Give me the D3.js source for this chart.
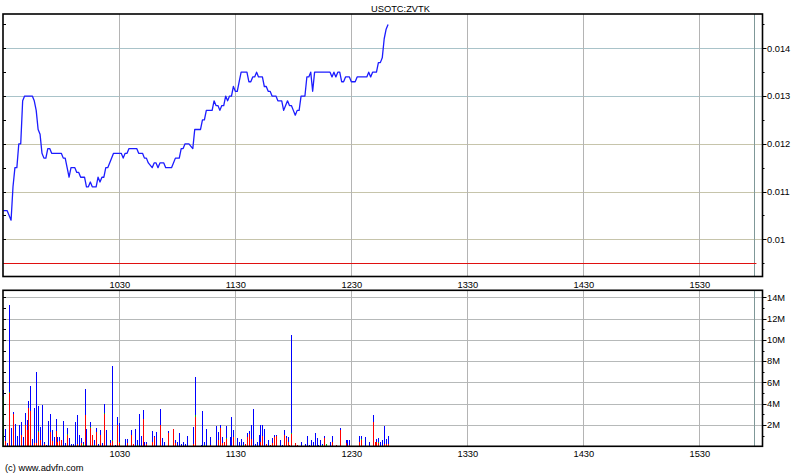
<!DOCTYPE html>
<html><head><meta charset="utf-8">
<script src="https://cdn.jsdelivr.net/npm/d3@7"></script>
<style>
body{margin:0;background:#fff;}
svg{display:block;font-family:"Liberation Sans",Arial,sans-serif;}
</style></head><body>
<svg id="c" width="800" height="475"></svg>
<script>
// ---------- data ----------
const title = "USOTC:ZVTK";
const copyright = "(c) www.advfn.com";
// minutes after 09:30
const timeTickMinutes = [60,120,180,240,300,360];
const timeTickLabels = ["1030","1130","1230","1330","1430","1530"];
const priceTicks = [0.010,0.011,0.012,0.013,0.014];
const priceTickLabels = ["0.01","0.011","0.012","0.013","0.014"];
const priceMinorTicks = [0.0095,0.0105,0.0115,0.0125,0.0135,0.0145];
const volTicks = [2,4,6,8,10,12,14];
const volTickLabels = ["2M","4M","6M","8M","10M","12M","14M"];
const volMinorTicks = [1,3,5,7,9,11,13];
const prevClose = 0.0095;
const sessionMarkerMinute = 388.5;

const priceMinutes = [0,2,4,5,6,7,8,9,10,11,15,16,17,18,19,20,21,22,23,24,25,30,31,32,33,34,35,37,38,39,40,42,43,44,45,46,48,49,50,51,52,53,54,55,57,61,62,63,64,65,69,70,72,73,74,75,77,78,79,80,81,83,84,87,88,89,91,92,93,94,96,98,99,102,103,104,105,108,109,110,111,112,113,114,115,116,117,118,119,120,121,122,123,126,127,128,129,130,131,132,134,135,136,137,138,139,141,142,144,145,146,147,148,149,150,151,152,153,154,156,157,158,159,160,161,169,170,171,172,173,174,175,176,177,179,180,182,183,188,189,190,191,193,194,195,196,197,198,199];
const prices = [0.0106,0.0106,0.0104,0.0111,0.0115,0.0115,0.0120,0.0120,0.0129,0.0130,0.0130,0.0129,0.0127,0.0123,0.0122,0.0118,0.0117,0.0117,0.0119,0.0119,0.0118,0.0118,0.0117,0.0117,0.0115,0.0113,0.0115,0.0115,0.0114,0.0114,0.0113,0.0113,0.0111,0.0111,0.0112,0.0111,0.0111,0.0113,0.0112,0.0113,0.0113,0.0115,0.0115,0.0116,0.0118,0.0118,0.0117,0.0118,0.0118,0.0119,0.0119,0.0118,0.0118,0.0117,0.0117,0.0116,0.0115,0.0116,0.0116,0.0115,0.0116,0.0116,0.0115,0.0115,0.0116,0.0117,0.0117,0.0119,0.0119,0.0120,0.0120,0.0119,0.0123,0.0123,0.0125,0.0125,0.0127,0.0127,0.0129,0.0128,0.0128,0.0127,0.0128,0.0128,0.0130,0.0129,0.0130,0.0130,0.0132,0.0131,0.0131,0.0133,0.0135,0.0135,0.0133,0.0133,0.0134,0.0134,0.0135,0.0134,0.0134,0.0132,0.0132,0.0131,0.0131,0.0130,0.0130,0.0129,0.0129,0.0127,0.0128,0.0129,0.0128,0.0128,0.0127,0.0126,0.0127,0.0127,0.0130,0.0130,0.0134,0.0134,0.0135,0.0131,0.0135,0.0135,0.0134,0.0135,0.0134,0.0135,0.0135,0.0133,0.0133,0.0134,0.0134,0.0133,0.0133,0.0134,0.0134,0.0135,0.0134,0.0135,0.0135,0.0137,0.0137,0.0138,0.0142,0.0144,0.0145];

// volume per minute, millions of shares
const volMinutes = [0,1,2,3,4,5,6,7,8,9,
10,11,12,13,14,15,16,17,18,19,
20,21,22,23,24,25,26,27,28,29,
30,31,32,33,34,35,36,37,38,39,
40,41,42,43,45,46,47,48,49,50,
51,52,53,55,56,58,59,60,63,64,
66,67,68,69,70,71,72,73,74,77,
78,79,81,82,83,85,88,89,90,91,
92,93,94,95,98,99,102,103,104,105,
107,110,111,112,113,114,115,117,118,119,
121,122,123,124,125,126,127,128,129,130,
131,132,133,134,135,136,137,138,139,140,
141,143,144,145,146,147,148,149,151,152,
154,156,157,158,159,160,161,162,163,164,
165,166,167,169,170,172,174,177,178,179,
184,185,187,189,191,192,193,194,195,196,
197,198,199];
const volSell = [0,0.5,0,5.0,0,3.0,0,0,0,1.1,
0,2.0,1.5,3.6,3.3,0,0.3,0.3,1.3,0.6,
0,0.2,0,0,1.3,0.5,0,1.4,0.4,0.5,
0.6,0,0,1.1,0,0,0,0,0.2,0,
0.3,0,2.9,0,1.7,1.1,0,1.3,0,1.1,
0,3.0,0,0.3,0.5,0.05,2.0,0.3,0,0.3,
1.1,0.2,0,0,0,0,2.55,0,0.2,0.4,
0.85,0,2.0,0,0,1.25,1.6,0.35,0,0,
0,0,0,0,0.2,2.8,0,0,0,0,
0.15,0,0.6,1.7,0.3,0.4,0.7,0,0,0.9,
0,0,0,0,0.2,0.85,1.2,0.65,0,0,
0,0,0.4,1.0,0,0.2,0,0.1,0.3,0.9,
0.95,0,0,1.1,0.75,0.4,0.1,1.15,0.3,0.1,
0,0,0,0,0,0,0,0,0,0,
0,0.75,0,0,0.4,0.1,1.5,0.3,0,0.1,
0.4,0.55,0,0,2.25,0.4,0.4,0.3,0,0,
0.2,0.2,0.2];
const volNeutral = [4.7,0,0,0.1,0,0,0,0,0,0,
0,0,0,0,0,0,0,0,0.15,0,
0,0,0,0,0,0,0,0,0,0,
0,0,0,0.1,0,0,0,0,0,0,
0,0.2,0,0,0.1,0,0.1,0,0,0,
0,0.1,0,0,0.1,0,0,0.1,0,0,
0,0,0,0.1,0,0,0,0,0,0,
0.05,0,0,0,0,0,0,0,0,0,
0,0,0,0,0,0.1,0,0,0.15,0,
0,0,0,0,0,0,0.1,0,0,0,
0,0,0,0.1,0,0,0,0,0,0,
0,0,0,0,0,0,0,0,0,0,
0,0,0,0,0.05,0,0,0.1,0,0,
0,0,0,0,0,0,0,0,0,0,
0.1,0,0.2,0,0,0,0,0,0,0,
0,0.1,0,0,0,0,0,0.1,0,0,
0,0,0];
const volBuy = [0.6,1.1,0.3,8.2,1.7,0.2,2.1,1.0,2.0,1.2,
0.9,1.1,1.0,0.65,2.4,0.7,3.3,6.7,2.35,1.2,
3.9,0.2,0.15,2.4,1.7,1.0,0.85,1.15,0.5,0.35,
0,2.4,0.3,0.5,0.75,0.2,0.2,2.3,2.7,1.1,
0.45,0.25,2.5,1.6,0.5,0,0.45,0.4,0.2,0.4,
0.3,0.9,1.5,0.25,6.9,0.1,0.8,1.8,0.65,0.35,
0.4,0,1.6,0.45,3.0,1.0,0.85,0.45,0.25,1.0,
0.05,1.3,1.5,0.75,0.45,0.15,0,0.2,0.45,1.25,
0.2,0.45,0.2,0.95,1.6,3.6,0.1,3.3,0.25,1.6,
0.7,1.9,0.7,0.3,0.55,0,1.1,0.85,2.8,0.6,
0.75,0.4,0.65,0.3,0,0.4,0.2,1.35,3.5,0.2,
0.45,1.1,1.6,1.0,1.6,0,0.55,0,0.45,0.2,
0.15,0.55,0.1,0.4,0.15,0.45,0,9.25,0,0,
0.45,0.2,1.0,0.1,0.55,0.4,1.25,0.75,0.1,0.55,
0.1,0.25,0,0.4,0.55,0,0.2,0.25,0.55,0.45,
0.55,0.35,0.85,0.45,0.65,0,0.25,0.35,0.4,0.55,
1.7,0.45,0.8];

// ---------- layout ----------
const W = 800, H = 475;
const L = 3, R = 762.5;
const P = {top: 14, bottom: 276.5};
const V = {top: 290.3, bottom: 446.3};
const FONT = 9.3;

const svg = d3.select("#c");
const x = d3.scaleLinear().domain([0, 390]).range([3.33, 757.33]);
const yP = d3.scaleLinear().domain([0.010, 0.014]).range([239.3, 48.3]);
const yV = d3.scaleLinear().domain([0, 14]).range([446.3, 297.3]);

function panelBase(top, bottom, yScale, ticks, minor, labels, colorFn) {
  const g = svg.append("g");
  // horizontal grid
  g.selectAll("line.h").data(ticks).join("line")
    .attr("x1", L).attr("x2", R)
    .attr("y1", d => Math.round(yScale(d)) + 0.5).attr("y2", d => Math.round(yScale(d)) + 0.5)
    .attr("stroke", colorFn).attr("stroke-width", 1);
  // vertical grid
  g.selectAll("line.v").data(timeTickMinutes).join("line")
    .attr("x1", d => Math.round(x(d)) + 0.5).attr("x2", d => Math.round(x(d)) + 0.5)
    .attr("y1", top).attr("y2", bottom)
    .attr("stroke", "#b4b4b4").attr("stroke-width", 1);
  // session marker
  g.append("line")
    .attr("x1", Math.round(x(sessionMarkerMinute)) + 0.5).attr("x2", Math.round(x(sessionMarkerMinute)) + 0.5)
    .attr("y1", top).attr("y2", bottom)
    .attr("stroke", "#7f9898").attr("stroke-width", 1);
  // right axis ticks + labels
  g.selectAll("line.rt").data(ticks).join("line")
    .attr("x1", R).attr("x2", R + 4)
    .attr("y1", d => Math.round(yScale(d)) + 0.5).attr("y2", d => Math.round(yScale(d)) + 0.5)
    .attr("stroke", "#000");
  g.selectAll("line.rm").data(minor).join("line")
    .attr("x1", R).attr("x2", R + 2)
    .attr("y1", d => Math.round(yScale(d)) + 0.5).attr("y2", d => Math.round(yScale(d)) + 0.5)
    .attr("stroke", "#000");
  g.selectAll("line.lt").data(ticks.concat(minor)).join("line")
    .attr("x1", L).attr("x2", L + 3)
    .attr("y1", d => Math.round(yScale(d)) + 0.5).attr("y2", d => Math.round(yScale(d)) + 0.5)
    .attr("stroke", "#000");
  g.selectAll("text.rl").data(ticks).join("text")
    .attr("x", R + 4.5).attr("y", d => yScale(d) + 3.3)
    .attr("font-size", FONT).attr("fill", "#000")
    .text((d, i) => labels[i]);
  // bottom time labels
  g.selectAll("text.tl").data(timeTickMinutes).join("text")
    .attr("x", d => x(d) + 0.5).attr("y", bottom + 11)
    .attr("text-anchor", "middle").attr("font-size", FONT).attr("fill", "#000")
    .text((d, i) => timeTickLabels[i]);
  return g;
}

// ---------- price panel ----------
const gP = panelBase(P.top, P.bottom, yP, priceTicks, priceMinorTicks, priceTickLabels,
  d => d >= 0.013 ? "#a9c3c9" : "#c6c4ab");

gP.append("line")
  .attr("x1", L).attr("x2", x(sessionMarkerMinute) + 2)
  .attr("y1", Math.round(yP(prevClose)) + 0.5).attr("y2", Math.round(yP(prevClose)) + 0.5)
  .attr("stroke", "#e01010").attr("stroke-width", 1.2);

const pricePts = priceMinutes.map((m, i) => [m, prices[i]]);
gP.append("path")
  .datum(pricePts)
  .attr("fill", "none").attr("stroke", "#1c1cff").attr("stroke-width", 1.3)
  .attr("stroke-linejoin", "round")
  .attr("d", d3.line().x(d => x(d[0])).y(d => yP(d[1])));

gP.append("rect")
  .attr("x", L).attr("y", P.top).attr("width", R - L).attr("height", P.bottom - P.top)
  .attr("fill", "none").attr("stroke", "#000").attr("stroke-width", 1.6);

// ---------- volume panel ----------
const gV = panelBase(V.top, V.bottom, yV, volTicks, volMinorTicks, volTickLabels, () => "#b6b9b9");

const volRows = volMinutes.map((m, i) => ({m, sell: volSell[i], neutral: volNeutral[i], buy: volBuy[i]}));
const stack = d3.stack().keys(["sell", "neutral", "buy"])(volRows);
const volColors = {sell: "#ff0000", neutral: "#00c000", buy: "#0000ff"};
stack.forEach(layer => {
  gV.append("g").attr("fill", volColors[layer.key]).attr("shape-rendering", "crispEdges")
    .selectAll("rect").data(layer.filter(d => d[1] > d[0])).join("rect")
    .attr("x", d => Math.round(x(d.data.m)) - 0.5)
    .attr("width", 1.6)
    .attr("y", d => yV(d[1]))
    .attr("height", d => yV(d[0]) - yV(d[1]));
});

gV.append("rect")
  .attr("x", L).attr("y", V.top).attr("width", R - L).attr("height", V.bottom - V.top)
  .attr("fill", "none").attr("stroke", "#000").attr("stroke-width", 1.6);

// ---------- texts ----------
svg.append("text").attr("x", 400.5).attr("y", 11.5).attr("text-anchor", "middle")
  .attr("font-size", FONT).attr("fill", "#000").text(title);
svg.append("text").attr("x", 5).attr("y", 470.5)
  .attr("font-size", FONT).attr("fill", "#000").text(copyright);
</script>
</body></html>
